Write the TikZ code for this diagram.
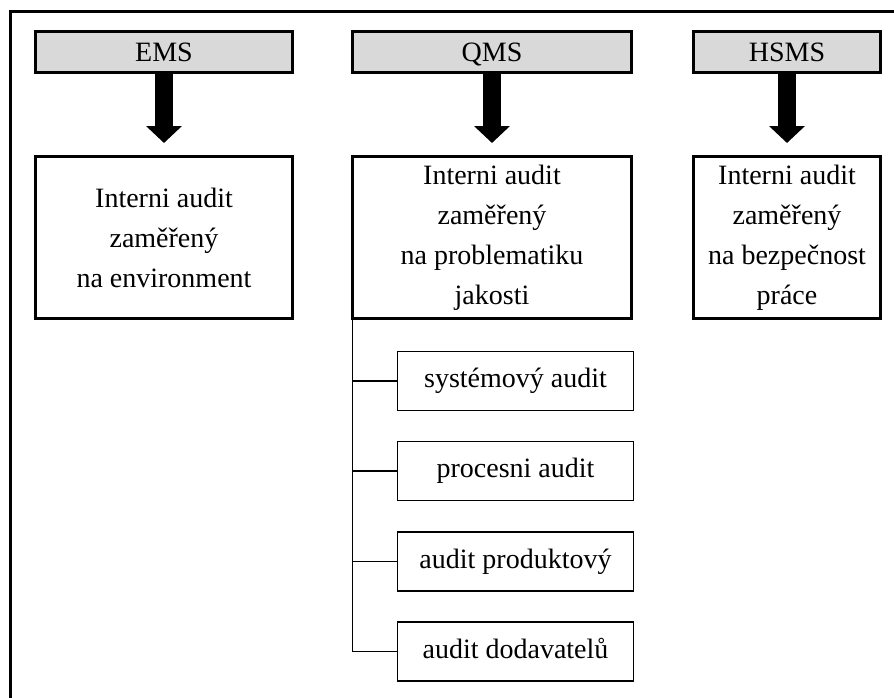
\documentclass[tikz,border=0pt]{standalone}
\usepackage{fontspec}
\setmainfont{Liberation Serif}
\usetikzlibrary{arrows.meta}
\definecolor{kopfgrau}{RGB}{217,217,217}

\begin{document}
\begin{tikzpicture}[x=1pt,y=-1pt,font=\fontsize{28}{40}\selectfont,
	kopf/.style={draw,line width=3pt,fill=kopfgrau,inner sep=0pt,minimum height=41pt,text height=18pt,text depth=0pt},
	audit/.style={draw,line width=3pt,inner sep=0pt,align=center,minimum height=162pt},
	unter/.style={draw,line width=1.6pt,inner sep=0pt,minimum width=236pt,minimum height=59pt,text height=18pt,text depth=5pt},
	pfeil/.style={line width=18pt,-{Triangle[width=35pt,length=17pt]},shorten >=12pt}]
	\useasboundingbox (0,0) rectangle (894,697);
	\draw[line width=3pt] (900,11) -- (10,11) -- (10,705);
	% Systeme
	\node[kopf,minimum width=257pt] (EMS) at (164,52) {EMS};
	\node[kopf,minimum width=279pt] (QMS) at (492,52) {QMS};
	\node[kopf,minimum width=187pt] (HSMS) at (787,52) {HSMS};
	% interni audity
	\node[audit,minimum width=257pt] (A1) at (164,237.5) {Interni audit\\zaměřený\\na environment};
	\node[audit,minimum width=279pt] (A2) at (492,237.5) {Interni audit\\zaměřený\\na problematiku\\jakosti};
	\node[audit,minimum width=187pt] (A3) at (787,237.5) {Interni audit\\zaměřený\\na bezpečnost\\práce};
	\draw[pfeil] (EMS) -- (A1);
	\draw[pfeil] (QMS) -- (A2);
	\draw[pfeil] (HSMS) -- (A3);
	% druhy auditu jakosti
	\node[unter] (U1) at (515.5,381) {systémový audit};
	\node[unter] (U2) at (515.5,471) {procesni audit};
	\node[unter] (U3) at (515.5,561.5) {audit produktový};
	\node[unter] (U4) at (515.5,651.5) {audit dodavatelů};
	\coordinate (L) at ([xshift=1.5pt]A2.south west);
	\draw[line width=1.6pt] (L) |- (U4.west);
	\foreach \u in {U1,U2,U3}
		\draw[line width=1.6pt] (L |- \u.west) -- (\u.west);
\end{tikzpicture}
\end{document}
